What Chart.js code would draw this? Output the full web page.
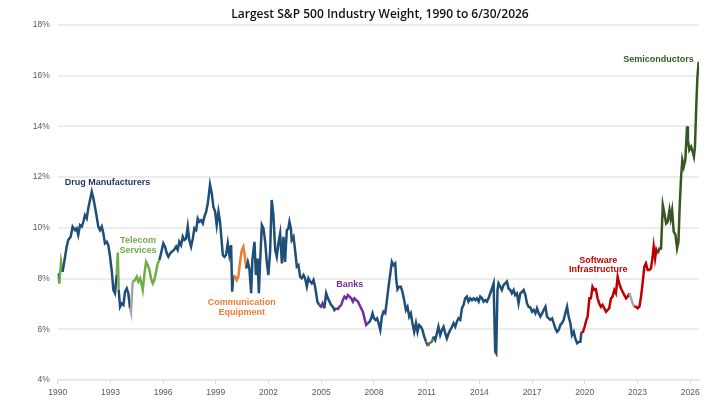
<!DOCTYPE html>
<html>
<head>
<meta charset="utf-8">
<script src="https://cdn.jsdelivr.net/npm/chart.js@4.4.1/dist/chart.umd.min.js"></script>
<style>
html,body{margin:0;padding:0;background:#fff;}
#wrap{width:726px;height:407px;}
</style>
</head>
<body>
<div id="wrap"><canvas id="c" width="726" height="407"></canvas></div>
<script>
// ---- DATA ----
const years = [
1990.00,1990.09,1990.19,1990.28,1990.42,1990.51,1990.60,1990.74,1990.85,1990.99,
1991.08,1991.17,1991.27,1991.37,1991.46,1991.55,1991.65,1991.74,1991.84,1991.94,
1992.03,1992.12,1992.22,1992.31,1992.41,1992.51,1992.60,1992.69,1992.79,1992.88,
1992.98,1993.08,1993.17,1993.26,1993.36,1993.42,1993.47,1993.55,1993.64,1993.74,
1993.83,1993.93,1994.02,1994.12,1994.17,1994.27,1994.40,1994.50,1994.59,1994.69,
1994.78,1994.84,1994.93,1995.03,1995.13,1995.22,1995.31,1995.41,1995.50,1995.60,
1995.69,1995.79,1995.88,1996.01,1996.11,1996.21,1996.30,1996.40,1996.49,1996.62,
1996.74,1996.83,1996.92,1997.02,1997.12,1997.21,1997.31,1997.40,1997.49,1997.59,
1997.69,1997.78,1997.88,1997.97,1998.06,1998.16,1998.26,1998.35,1998.45,1998.54,
1998.60,1998.67,1998.77,1998.86,1998.96,1999.05,1999.15,1999.24,1999.30,1999.40,
1999.49,1999.58,1999.68,1999.77,1999.87,1999.93,2000.00,2000.10,2000.19,2000.28,
2000.38,2000.48,2000.57,2000.67,2000.73,2000.82,2000.91,2001.01,2001.08,2001.20,
2001.28,2001.37,2001.45,2001.52,2001.62,2001.71,2001.81,2001.90,2001.99,2002.09,
2002.18,2002.27,2002.38,2002.47,2002.56,2002.66,2002.76,2002.85,2002.94,2003.04,
2003.13,2003.19,2003.27,2003.32,2003.42,2003.51,2003.61,2003.70,2003.80,2003.89,
2003.99,2004.08,2004.18,2004.27,2004.37,2004.46,2004.56,2004.65,2004.71,2004.78,
2004.88,2004.98,2005.07,2005.17,2005.28,2005.38,2005.47,2005.56,2005.66,2005.75,
2005.85,2005.95,2006.04,2006.14,2006.23,2006.32,2006.42,2006.52,2006.61,2006.71,
2006.80,2006.89,2006.99,2007.09,2007.18,2007.27,2007.37,2007.46,2007.56,2007.65,
2007.75,2007.84,2007.92,2008.00,2008.09,2008.18,2008.26,2008.36,2008.45,2008.54,
2008.64,2008.74,2008.83,2008.92,2009.02,2009.11,2009.21,2009.27,2009.34,2009.44,
2009.53,2009.62,2009.72,2009.82,2009.91,2010.01,2010.10,2010.19,2010.29,2010.39,
2010.48,2010.57,2010.67,2010.76,2010.86,2010.96,2011.07,2011.16,2011.30,2011.39,
2011.49,2011.58,2011.67,2011.77,2011.87,2011.96,2012.06,2012.15,2012.25,2012.34,
2012.44,2012.53,2012.63,2012.72,2012.81,2012.91,2013.01,2013.10,2013.19,2013.29,
2013.38,2013.48,2013.58,2013.67,2013.77,2013.86,2013.96,2014.05,2014.15,2014.24,
2014.34,2014.43,2014.52,2014.62,2014.72,2014.81,2014.90,2014.96,2015.03,2015.09,
2015.19,2015.28,2015.38,2015.47,2015.57,2015.66,2015.76,2015.85,2015.95,2016.04,
2016.14,2016.23,2016.33,2016.43,2016.52,2016.62,2016.71,2016.80,2016.90,2017.00,
2017.09,2017.19,2017.28,2017.38,2017.47,2017.57,2017.66,2017.76,2017.85,2017.95,
2018.04,2018.14,2018.23,2018.32,2018.42,2018.51,2018.61,2018.70,2018.80,2018.89,
2018.99,2019.08,2019.18,2019.27,2019.37,2019.46,2019.56,2019.65,2019.75,2019.81,
2019.90,2019.99,2020.09,2020.16,2020.26,2020.35,2020.44,2020.54,2020.63,2020.73,
2020.82,2020.92,2021.01,2021.11,2021.21,2021.30,2021.39,2021.49,2021.58,2021.68,
2021.77,2021.87,2021.96,2022.06,2022.15,2022.25,2022.35,2022.44,2022.54,2022.63,
2022.73,2022.82,2022.92,2023.01,2023.11,2023.20,2023.29,2023.39,2023.48,2023.58,
2023.68,2023.77,2023.86,2023.92,2024.00,2024.07,2024.15,2024.25,2024.34,2024.44,
2024.53,2024.63,2024.72,2024.82,2024.89,2024.97,2025.06,2025.16,2025.25,2025.33,
2025.40,2025.48,2025.55,2025.63,2025.72,2025.82,2025.87,2025.95,2026.05,2026.14,
2026.21,2026.27,2026.35,2026.41,2026.48
];
const weights = [
8.21,7.81,8.66,8.27,8.86,9.26,9.52,9.65,10.05,9.91,
9.98,9.72,10.11,10.05,10.24,10.50,10.37,10.77,11.10,11.43,
11.17,10.83,10.44,10.05,9.91,10.05,9.78,9.39,9.45,9.32,
8.86,8.27,7.55,7.42,8.14,9.03,7.55,6.89,7.02,6.96,
7.48,7.61,7.42,6.83,6.69,7.88,7.94,8.07,7.88,8.01,
7.75,7.55,8.14,8.66,8.53,8.34,8.01,7.81,7.94,8.27,
8.60,8.73,8.99,9.39,9.26,8.99,8.86,8.99,9.06,9.13,
9.26,9.13,9.45,9.32,9.65,9.52,9.58,10.05,9.52,9.26,
9.58,9.98,9.91,10.37,10.24,10.30,10.17,10.44,10.64,10.96,
11.29,11.71,11.36,10.83,10.64,10.11,10.64,10.24,9.72,8.93,
8.86,8.93,9.39,8.93,9.32,7.48,8.14,8.07,7.94,8.07,
8.66,9.13,9.26,8.79,8.40,8.66,8.40,7.42,8.73,9.45,
8.14,8.79,7.42,8.66,10.11,9.98,9.45,8.66,8.14,9.06,
11.10,10.57,9.13,8.86,9.39,9.78,8.60,9.65,8.66,9.91,
9.98,10.24,9.98,9.52,9.65,9.13,8.47,8.53,8.07,8.01,
8.14,8.01,7.68,8.01,7.88,7.81,7.94,7.68,7.42,7.09,
6.96,6.89,7.02,6.83,7.42,7.22,7.09,6.96,6.89,6.76,
6.83,6.80,6.89,6.96,7.15,7.29,7.22,7.35,7.29,7.22,
7.09,7.22,7.15,7.09,6.96,6.83,6.69,6.43,6.17,6.24,
6.30,6.43,6.63,6.43,6.37,6.43,6.24,5.97,6.50,6.69,
6.63,7.15,7.68,8.14,8.66,8.53,8.60,7.94,7.57,7.68,
7.68,7.48,7.15,6.76,6.89,6.50,6.63,6.24,5.90,6.24,
5.90,6.17,6.10,5.97,5.71,5.51,5.34,5.45,5.51,5.71,
5.58,5.84,6.10,5.77,5.97,6.10,5.84,5.64,5.84,5.97,
6.10,6.24,6.10,6.30,6.43,6.37,6.83,6.96,7.22,7.29,
7.09,7.22,7.15,7.22,7.15,7.22,7.09,7.29,7.22,7.09,
7.15,7.09,7.22,7.42,7.62,7.81,5.12,5.05,7.55,7.81,
7.68,7.55,7.75,7.81,7.88,7.61,7.55,7.42,7.55,7.35,
7.42,7.02,7.42,7.48,7.55,7.35,7.02,6.89,6.86,6.69,
6.76,6.63,6.83,6.63,6.50,6.63,6.76,6.89,6.50,6.43,
6.37,6.43,6.24,6.04,5.90,5.97,6.17,6.24,6.37,6.63,
6.89,6.50,6.24,5.77,5.90,5.64,5.45,5.50,5.51,5.90,
5.90,6.10,6.37,6.50,7.22,7.22,7.68,7.55,7.58,7.22,
7.02,6.89,6.96,6.83,6.69,6.76,6.83,7.22,7.29,7.55,
7.42,8.07,7.81,7.61,7.48,7.35,7.22,7.29,7.42,7.22,
7.02,6.89,6.89,6.83,6.89,7.29,7.81,8.47,8.60,8.34,
8.34,8.40,8.86,9.26,8.79,9.13,8.99,9.19,9.19,10.90,
10.57,10.17,10.24,10.70,10.37,10.70,9.85,9.72,9.19,9.45,
10.83,12.01,12.67,12.41,12.67,14.00,13.46,13.07,13.20,13.00,
12.81,13.20,14.91,15.96,16.55
];
// largest industry, as consecutive runs of points: [code, number of points]
// D drug mfr, T telecom, C comm equip, B banks, X other (gray), O other (2011), S software infra, M semis
const industryRuns = [
  ["D",2],["T",2],["D",31],["T",2],["D",7],["X",2],["T",16],["D",45],["C",8],
  ["D",46],["B",3],["D",7],["B",19],["D",36],["B",1],["O",3],["D",90],
  ["S",29],["X",3],["S",15],["M",28]
];
const yTicks = [4,6,8,10,12,14,16,18];
const xTicks = [1990,1993,1996,1999,2002,2005,2008,2011,2014,2017,2020,2023,2026];
const title = "Largest S&P 500 Industry Weight, 1990 to 6/30/2026";
const labels = [
  {lines:["Drug Manufacturers"], x:1992.84, y:[11.77], color:"#1f3864"},
  {lines:["Telecom","Services"], x:1994.57, y:[9.50,9.09], color:"#70ad47"},
  {lines:["Communication","Equipment"], x:2000.47, y:[7.05,6.67], color:"#ed7d31"},
  {lines:["Banks"], x:2006.62, y:[7.75], color:"#7030a0"},
  {lines:["Software","Infrastructure"], x:2020.77, y:[8.73,8.34], color:"#c00000"},
  {lines:["Semiconductors"], x:2024.2, y:[16.62], color:"#375623"}
];
const colors = {D:"#1f4e79",T:"#70ad47",C:"#ed7d31",B:"#7030a0",X:"#a5a5a5",O:"#548235",S:"#c00000",M:"#375623"};

const industry = [];
industryRuns.forEach(([c,n])=>{ for(let k=0;k<n;k++) industry.push(c); });
const points = years.map((x,i)=>({x:x, y:weights[i]}));

const overlay = {
  id:'overlay',
  afterDraw(chart){
    const ctx = chart.ctx, xs = chart.scales.x, ys = chart.scales.y;
    ctx.save();
    ctx.textAlign = 'center';
    ctx.textBaseline = 'middle';
    ctx.fillStyle = '#111';
    ctx.font = '600 12px "Open Sans"';
    ctx.fillText(title, 380, 15);
    ctx.font = 'bold 9px "Liberation Sans"';
    labels.forEach(l=>{
      ctx.fillStyle = l.color;
      l.lines.forEach((t,k)=>{
        ctx.fillText(t, xs.getPixelForValue(l.x), ys.getPixelForValue(l.y[k]));
      });
    });
    ctx.restore();
  }
};

new Chart(document.getElementById('c'), {
  type:'line',
  data:{datasets:[{
    data: points,
    borderWidth: 2.5,
    pointRadius: 0,
    tension: 0,
    fill: false,
    borderColor: colors.D,
    segment:{ borderColor: c => colors[industry[c.p1DataIndex]] || colors.D }
  }]},
  options:{
    responsive:false,
    animation:false,
    devicePixelRatio:1,
    layout:{padding:{left:0,right:27,top:25,bottom:0}},
    plugins:{legend:{display:false}, tooltip:{enabled:false}, title:{display:false}},
    scales:{
      x:{
        type:'linear', min:1990, max:2026.5,
        afterFit(s){ s.height = 27; },
        afterBuildTicks(s){ s.ticks = xTicks.map(v=>({value:v})); },
        ticks:{ callback:v=>String(v), font:{family:'"Liberation Sans"', size:8.5}, color:'#595959', padding:4, maxRotation:0, autoSkip:false },
        grid:{ drawOnChartArea:false, drawTicks:true, tickLength:4, color:'#d9d9d9' },
        border:{ display:true, color:'#e3e3e3', width:1.5 }
      },
      y:{
        min:4, max:18,
        afterFit(s){ s.width = 57.7; },
        afterBuildTicks(s){ s.ticks = yTicks.map(v=>({value:v})); },
        ticks:{ callback:v=>v+'%', font:{family:'"Liberation Sans"', size:8.5}, color:'#595959', padding:8 },
        grid:{ color:'#ececec', lineWidth:2, drawTicks:false },
        border:{ display:false }
      }
    }
  },
  plugins:[overlay]
});
</script>
</body>
</html>
